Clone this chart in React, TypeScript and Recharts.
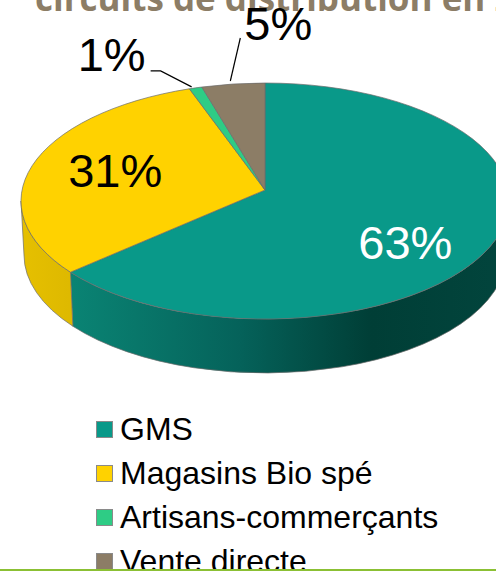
import React from 'react';
import { PieChart, Pie, Legend } from 'recharts';

const categories = ['GMS', 'Magasins Bio spé', 'Artisans-commerçants', 'Vente directe'];
const shares = [63, 31, 1, 5];
const fills = ['#099989', '#FFD200', '#2ECC85', '#8C7D66'];
const labelColors = ['#ffffff', '#000000', '#000000', '#000000'];
const title = 'circuits de distribution en 2';

const rows = categories.map((name, i) => ({ name, value: shares[i], fill: fills[i] }));

// fake 3D: tilted ellipse, apex sits above the ellipse centre
const W = 496;
const H = 571;
const APEX_X = 265;
const APEX_Y = 190;
const RX = 244;
const RY = 118;
const ELL_CY = 201;
const DEPTH = 54;
const BOTTOM_RX = 241;
const TILT_BACK = 0.53;
const TILT_FRONT = 0.45;
const FONT = '"Liberation Sans", Arial, sans-serif';

// where a ray from the apex at a pie angle hits the ellipse rim
const rimPoint = (deg: number) => {
  const t = ((90 - deg) * Math.PI) / 180;
  const dx = Math.sin(t);
  const cos = Math.cos(t);
  const dy = -cos * (cos > 0 ? TILT_BACK : TILT_FRONT);
  const oy = (APEX_Y - ELL_CY) / RY;
  const a = (dx * dx) / (RX * RX) + (dy * dy) / (RY * RY);
  const b = (2 * dy * oy) / RY;
  const c = oy * oy - 1;
  const s = (-b + Math.sqrt(b * b - 4 * a * c)) / (2 * a);
  return { x: APEX_X + dx * s, y: APEX_Y + dy * s };
};

const rimParam = (deg: number) => {
  const p = rimPoint(deg);
  return Math.atan2((p.y - ELL_CY) / RY, (p.x - APEX_X) / RX);
};

const wallPath = (from: number, to: number) => {
  const x0 = APEX_X + RX * Math.cos(from);
  const y0 = ELL_CY + RY * Math.sin(from);
  const x1 = APEX_X + RX * Math.cos(to);
  const y1 = ELL_CY + RY * Math.sin(to);
  const x2 = APEX_X + BOTTOM_RX * Math.cos(to);
  const y2 = ELL_CY + DEPTH + RY * Math.sin(to);
  const x3 = APEX_X + BOTTOM_RX * Math.cos(from);
  const y3 = ELL_CY + DEPTH + RY * Math.sin(from);
  return `M${x0},${y0} A${RX},${RY} 0 0 1 ${x1},${y1} L${x2},${y2} A${BOTTOM_RX},${RY} 0 0 0 ${x3},${y3} Z`;
};

const SliceShape = (props: any) => {
  const { startAngle, endAngle, fill, index } = props;
  const a = rimPoint(startAngle);
  const b = rimPoint(endAngle);
  const large = startAngle - endAngle > 180 ? 1 : 0;
  const top = `M${APEX_X},${APEX_Y} L${a.x},${a.y} A${RX},${RY} 0 ${large} 1 ${b.x},${b.y} Z`;

  let p0 = rimParam(startAngle);
  let p1 = rimParam(endAngle);
  if (p1 < p0) p1 += Math.PI * 2;
  const from = Math.max(p0, 0);
  const to = Math.min(p1, Math.PI);
  const gradId = `wall-${index ?? fill.slice(1)}`;
  const isGms = fill === fills[0];

  return (
    <g>
      <defs>
        <linearGradient id={gradId} gradientUnits="userSpaceOnUse" x1={20} x2={APEX_X + RX} y1={0} y2={0}>
          {isGms ? (
            <>
              <stop offset="0.1" stopColor="#0A8474" />
              <stop offset="0.45" stopColor="#05625A" />
              <stop offset="0.72" stopColor="#003E36" />
              <stop offset="1" stopColor="#02453D" />
            </>
          ) : (
            <>
              <stop offset="0" stopColor="#E6C000" />
              <stop offset="0.2" stopColor="#D6B200" />
            </>
          )}
        </linearGradient>
      </defs>
      {to > from && <path d={wallPath(from, to)} fill={`url(#${gradId})`} stroke="#6b6b6b" strokeWidth={0.7} />}
      <path d={top} fill={fill} stroke="#6b6b6b" strokeWidth={0.7} />
    </g>
  );
};

// label nudges from the rim point at each slice's middle angle
const labelNudge = [
  { dx: -93, dy: 7 },
  { dx: 81, dy: 8 },
  { dx: -84, dy: -33 },
  { dx: 45, dy: -61 },
];
const labelSize = [47, 47, 47, 47];
// leader lines, as offsets from the rim point
const leaders: Record<number, [number, number][]> = {
  2: [[-45, -17], [-35, -17], [-4, -1]],
  3: [[7, -46], [-3, -3]],
};

const renderLabel = (props: any) => {
  const { midAngle, index, value } = props;
  const rim = rimPoint(midAngle);
  const nudge = labelNudge[index];
  const line = leaders[index];
  return (
    <g key={index}>
      {line && (
        <polyline
          points={line.map(([dx, dy]) => `${rim.x + dx},${rim.y + dy}`).join(' ')}
          fill="none"
          stroke="#000"
          strokeWidth={1.2}
        />
      )}
      <text
        x={rim.x + nudge.dx}
        y={rim.y + nudge.dy}
        textAnchor="middle"
        dominantBaseline="central"
        fontFamily={FONT}
        fontSize={labelSize[index]}
        fill={labelColors[index]}
      >
        {value}%
      </text>
    </g>
  );
};

const LegendList = () => (
  <div style={{ fontFamily: FONT, fontSize: 32, color: '#000', lineHeight: '44px' }}>
    {rows.map((r) => (
      <div key={r.name} style={{ display: 'flex', alignItems: 'center', height: 44, whiteSpace: 'nowrap' }}>
        <span
          style={{
            width: 17,
            height: 17,
            background: r.fill,
            border: '1px solid #8a8a8a',
            boxSizing: 'border-box',
            marginRight: 7,
          }}
        />
        {r.name}
      </div>
    ))}
  </div>
);

export default function App() {
  return (
    <div style={{ position: 'absolute', left: 0, top: 0, width: W, height: H, overflow: 'hidden', background: '#fff' }}>
      <PieChart width={W} height={H} margin={{ top: 0, right: 0, bottom: 0, left: 0 }}>
        <text x={35} y={11} fontFamily='"Open Sans", sans-serif' fontWeight={700} fontSize={35} fill="#8C7D66">
          {title}
        </text>
        <Pie
          data={rows}
          dataKey="value"
          nameKey="name"
          cx={APEX_X}
          cy={APEX_Y}
          outerRadius={RX}
          startAngle={90}
          endAngle={-270}
          paddingAngle={0}
          shape={SliceShape}
          label={renderLabel}
          labelLine={false}
          isAnimationActive={false}
        />
        <Legend
          content={LegendList}
          layout="vertical"
          wrapperStyle={{ position: 'absolute', left: 96, top: 407, width: 390, height: 176 }}
        />
      </PieChart>
      <div style={{ position: 'absolute', left: 0, top: 569, width: W, height: 2, background: '#8BC034' }} />
    </div>
  );
}
